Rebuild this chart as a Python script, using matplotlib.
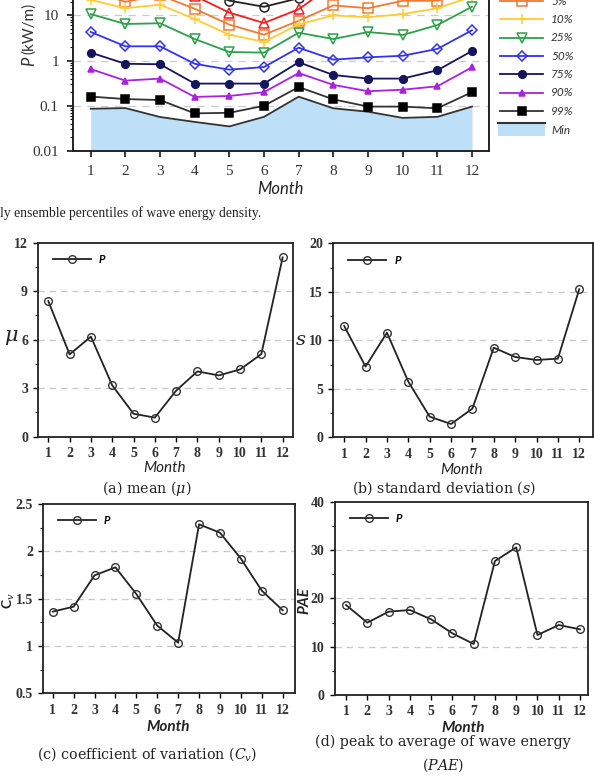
import numpy as np
import matplotlib.pyplot as plt
from matplotlib.ticker import FixedLocator, AutoMinorLocator, FuncFormatter, LogLocator, NullFormatter
from matplotlib.patches import Rectangle
from matplotlib.lines import Line2D

# ---------------------------------------------------------------- data
months = np.arange(1, 13)

# monthly ensemble percentiles of wave energy density P (kW/m)
p001 = [90, 60, 75, 40, 21.2, 15.5, 24, 80, 70, 75, 80, 110]
p01 = [55, 38, 45, 27, 11.5, 6.8, 13.7, 48, 40, 45, 50, 65]
p05 = [35, 20, 28, 14, 6.25, 3.74, 7.6, 16.7, 14.4, 21, 21, 35]
p10 = [22, 14.4, 17.3, 8.3, 3.74, 2.6, 6.3, 10, 9.1, 10.7, 14.4, 26]
p25 = [10.7, 6.45, 6.7, 3.0, 1.55, 1.50, 4.14, 3.0, 4.28, 3.68, 6.1, 15.5]
p50 = [4.3, 2.07, 2.07, 0.85, 0.63, 0.72, 1.93, 1.05, 1.18, 1.28, 1.81, 4.68]
p75 = [1.50, 0.85, 0.83, 0.31, 0.31, 0.31, 0.92, 0.48, 0.40, 0.40, 0.61, 1.63]
p90 = [0.65, 0.36, 0.40, 0.157, 0.165, 0.20, 0.53, 0.29, 0.21, 0.227, 0.27, 0.71]
p99 = [0.16, 0.141, 0.134, 0.068, 0.07, 0.10, 0.26, 0.139, 0.096, 0.096, 0.088, 0.20]
pmin = [0.086, 0.089, 0.0565, 0.044, 0.035, 0.057, 0.159, 0.088, 0.074, 0.054, 0.057, 0.096]

# monthly statistics of P
mean_p = [8.39, 5.09, 6.19, 3.18, 1.42, 1.18, 2.85, 4.04, 3.79, 4.16, 5.11, 11.09]
std_p = [11.48, 7.29, 10.79, 5.74, 2.13, 1.37, 2.96, 9.24, 8.28, 7.97, 8.11, 15.26]
cv_p = [1.363, 1.415, 1.746, 1.831, 1.549, 1.215, 1.035, 2.285, 2.197, 1.923, 1.585, 1.377]
pae_p = [18.62, 14.97, 17.24, 17.59, 15.66, 12.76, 10.55, 27.72, 30.55, 12.41, 14.48, 13.59]

# ---------------------------------------------------------------- layout
W, H = 594, 775
fig = plt.figure(figsize=(W / 100, H / 100), dpi=100)
plt.rcParams['mathtext.fontset'] = 'dejavuserif'


def box(l, t, r, b):
    return [l / W, 1 - b / H, (r - l) / W, (b - t) / H]


def ftext(x, y, s, **kw):
    fig.text(x / W, 1 - y / H, s, **kw)


SANS = 'Lato'
SERIF = 'Liberation Serif'
CAP = 'DejaVu Serif'
INK = '#222222'

# ---------------------------------------------------------------- top panel (cropped at the top)
ax0 = fig.add_axes(box(72.7, -75, 489.3, 151))
ax0.set_yscale('log')

series = [
    (p001, '0.1%', '#222222', 'o', 'none', 6.5),
    (p01, '1%', '#ee2020', '^', 'none', 6.5),
    (p05, '5%', '#f07a30', 's', 'none', 6.5),
    (p10, '10%', '#ffcc33', '+', '#ffcc33', 6.5),
    (p25, '25%', '#2ea04a', 'v', 'none', 6.5),
    (p50, '50%', '#3333ee', 'D', 'none', 5),
    (p75, '75%', '#15155c', 'o', '#15155c', 5.5),
    (p90, '90%', '#aa22dd', '^', '#aa22dd', 5),
    (p99, '99%', '#333333', 's', '#000000', 5.5),
]
for vals, lab, col, mk, mfc, ms in series:
    mec = '#000000' if lab == '99%' else col
    ax0.plot(months, vals, color=col, marker=mk, mfc=mfc, mec=mec,
             ms=ms, lw=1.3, mew=1.1, zorder=3)

ax0.fill_between(months, 0.001, pmin, color='#bde0f8', lw=0, zorder=1)
ax0.plot(months, pmin, color='#333333', lw=1.3, zorder=2)

# legend, drawn by hand in figure pixels (its upper rows fall off the page)
row0, step = -35.6, 18.33
for i, (vals, lab, col, mk, mfc, ms) in enumerate(series):
    ypx = row0 + i * step
    if ypx < -8:
        continue
    y = 1 - ypx / H
    mec = '#000000' if lab == '99%' else col
    fig.add_artist(Line2D([500 / W, 543 / W], [y, y], color=col, lw=1.3,
                          transform=fig.transFigure))
    fig.add_artist(Line2D([521.5 / W], [y], color=col, marker=mk, mfc=mfc, mec=mec,
                          ms=ms, mew=1.1, transform=fig.transFigure))
    fig.text(551 / W, y, lab, family=SANS, style='italic', size=8.5, va='center',
             ha='left', color='#333333')
fig.add_artist(Rectangle((498 / W, 1 - 136 / H), 47 / W, 13 / H, facecolor='#bde0f8',
                         edgecolor='none', transform=fig.transFigure))
fig.add_artist(Line2D([498 / W, 545 / W], [1 - 123 / H] * 2, color='#333333', lw=1.5,
                      transform=fig.transFigure))
fig.text(551 / W, 1 - 130 / H, 'Min', family=SANS, style='italic', size=8.5, va='center',
         ha='left', color='#333333')

ax0.set_xlim(0.48, 12.5)
ax0.set_ylim(0.01, 1000)
ax0.xaxis.set_major_locator(FixedLocator(months))
ax0.yaxis.set_major_locator(FixedLocator([0.01, 0.1, 1, 10]))
ax0.yaxis.set_major_formatter(FuncFormatter(lambda v, p: '%g' % v))
ax0.yaxis.set_minor_locator(LogLocator(base=10, subs=np.arange(2, 10)))
ax0.yaxis.set_minor_formatter(NullFormatter())
for y in [0.1, 1, 10]:
    ax0.axhline(y, color='#cccccc', lw=0.9, ls=(0, (6, 5)), zorder=0)
for s in ax0.spines.values():
    s.set_linewidth(1.4)
    s.set_color(INK)
ax0.tick_params(which='major', direction='out', length=4, width=1.1, labelsize=11, pad=6)
ax0.tick_params(which='minor', direction='out', length=2, width=0.8)
for t in ax0.get_xticklabels() + ax0.get_yticklabels():
    t.set_fontfamily(SERIF)
    t.set_color('#333333')
ftext(280, 189, 'Month', family=SANS, style='italic', size=12, ha='center', va='center', color=INK)
ftext(29, 61, 'P', family=SANS, style='italic', size=12, rotation=90, ha='center', va='center', color='#333333')
ftext(29, 28, '(kW/m)', family=SANS, size=11, rotation=90, ha='center', va='center', color='#333333')
ftext(0, 213, 'ly ensemble percentiles of wave energy density.', family=SERIF, size=9.8,
      ha='left', va='center', color=INK)

# ---------------------------------------------------------------- lower panels
panels = [
    (mean_p, box(38.3, 242.7, 293.3, 436.7), (0.53, 12.5), (0, 12), [0, 3, 6, 9, 12], [3, 6, 9]),
    (std_p, box(333.3, 243.3, 592.7, 437.3), (0.49, 12.63), (0, 20), [0, 5, 10, 15, 20], [5, 10, 15]),
    (cv_p, box(43.3, 504, 295, 693.3), (0.55, 12.59), (0.5, 2.5), [0.5, 1, 1.5, 2, 2.5], [1, 1.5, 2]),
    (pae_p, box(335, 501.7, 588.3, 695), (0.48, 12.39), (0, 40), [0, 10, 20, 30, 40], [10, 20, 30]),
]
for vals, pos, xl, yl, yt, gl in panels:
    ax = fig.add_axes(pos)
    ax.plot(months, vals, color=INK, lw=1.3, marker='o', mfc='none',
            mec='#333333', ms=5.5, mew=1.0, label='P')
    ax.set_xlim(*xl)
    ax.set_ylim(*yl)
    ax.xaxis.set_major_locator(FixedLocator(months))
    ax.yaxis.set_major_locator(FixedLocator(yt))
    ax.yaxis.set_major_formatter(FuncFormatter(lambda v, p: '%g' % v))
    ax.yaxis.set_minor_locator(AutoMinorLocator(2))
    for y in gl:
        ax.axhline(y, color='#c8c8c8', lw=0.9, ls=(0, (5, 4)), zorder=0)
    for s in ax.spines.values():
        s.set_linewidth(1.3)
        s.set_color(INK)
    ax.tick_params(which='major', direction='out', length=3.5, width=1.0, labelsize=10, pad=4)
    ax.tick_params(which='minor', direction='out', length=2, width=0.8)
    for t in ax.get_xticklabels() + ax.get_yticklabels():
        t.set_fontfamily(SERIF)
        t.set_fontweight('bold')
        t.set_color('#333333')
    ax.legend(loc='upper left', bbox_to_anchor=(0.058, 0.94), frameon=False,
              borderpad=0, borderaxespad=0, handlelength=38.0 / (8 * 100 / 72),
              handletextpad=0.7, prop={'family': SANS, 'style': 'italic', 'weight': 'bold', 'size': 8})

# axis labels
ftext(11, 337, r'$\mu$', size=15, ha='center', va='center', color=INK)
ftext(301, 339, r'$s$', size=14, ha='center', va='center', color=INK)
ftext(9, 601, r'C$_v$', family=SANS, weight='bold', size=10, rotation=90, ha='center', va='center', color=INK)
ftext(304, 601, 'PAE', family=SANS, weight='bold', style='italic', size=11, rotation=90,
      ha='center', va='center', color=INK)

ftext(165, 468, 'Month', family=SANS, style='italic', size=11, ha='center', va='center', color=INK)
ftext(462, 470, 'Month', family=SANS, style='italic', size=11, ha='center', va='center', color=INK)
ftext(168, 727, 'Month', family=SANS, style='italic', weight='bold', size=11, ha='center', va='center', color=INK)
ftext(463, 728, 'Month', family=SANS, style='italic', weight='bold', size=11, ha='center', va='center', color=INK)

# sub-captions
ftext(147, 488, r'(a) mean ($\mu$)', family=CAP, size=10.3, ha='center', va='center', color=INK)
ftext(444, 488, r'(b) standard deviation ($s$)', family=CAP, size=10.3, ha='center', va='center', color=INK)
ftext(147, 754, r'(c) coefficient of variation ($C_v$)', family=CAP, size=10.3, ha='center', va='center', color=INK)
ftext(443, 742, '(d) peak to average of wave energy', family=CAP, size=10.3, ha='center', va='center', color=INK)
ftext(443, 765, r'($PAE$)', family=CAP, size=10.3, ha='center', va='center', color=INK)

fig.savefig('out.png', dpi=100)
